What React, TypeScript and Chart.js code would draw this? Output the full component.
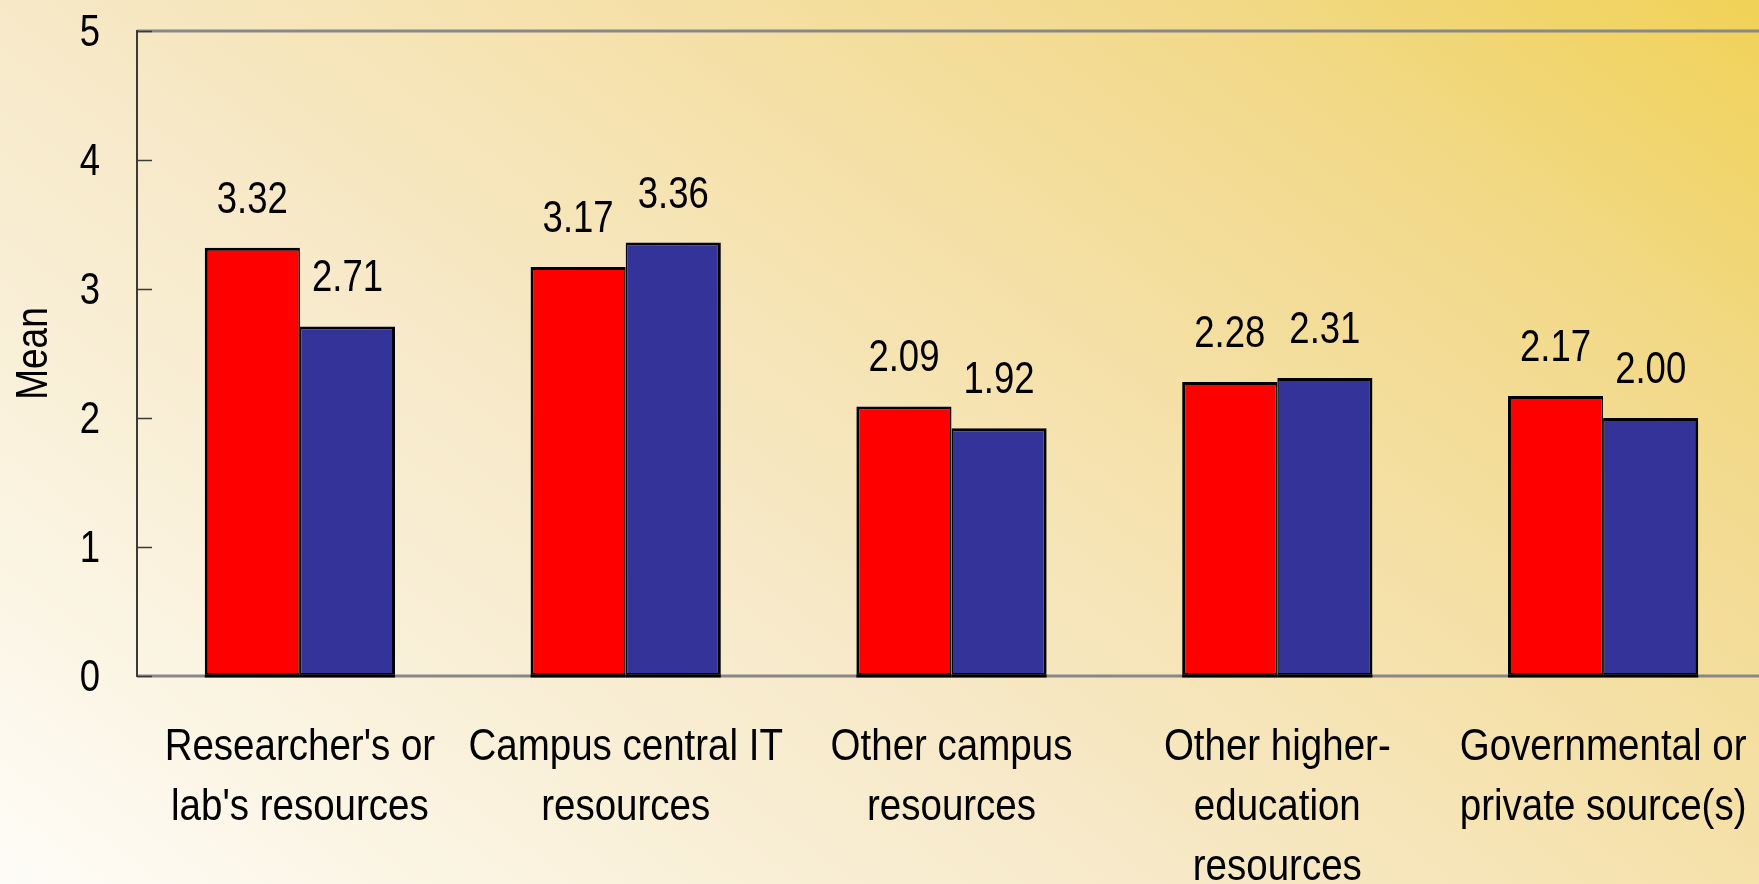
import React, { useEffect, useRef } from "react";
import { Chart, registerables } from "chart.js";

Chart.register(...registerables);

const categories: string[][] = [
  ["Researcher's or", "lab's resources"],
  ["Campus central IT", "resources"],
  ["Other campus", "resources"],
  ["Other higher-", "education", "resources"],
  ["Governmental or", "private source(s)"],
];
const seriesA: number[] = [3.32, 3.17, 2.09, 2.28, 2.17];
const seriesB: number[] = [2.71, 3.36, 1.92, 2.31, 2.0];
const yTicks: number[] = [0, 1, 2, 3, 4, 5];
const yTitle = "Mean";

const FONT = "'Liberation Sans', Arial, sans-serif";
const FS = 44;
const NARROW_NUM = 0.83;
const NARROW_TXT = 0.875;

function drawNarrow(ctx: any, text: string, x: number, y: number, align: string, sx: number) {
  ctx.save();
  ctx.translate(x, y);
  ctx.scale(sx, 1);
  ctx.textAlign = align;
  ctx.textBaseline = "alphabetic";
  ctx.fillText(text, 0, 0);
  ctx.restore();
}

const backgroundPlugin = {
  id: "bgGradient",
  beforeDraw(chart: any) {
    const { ctx, width, height } = chart;
    const g = ctx.createLinearGradient(1759, 0, 697, 1409);
    g.addColorStop(0, "#f0d257");
    g.addColorStop(0.2, "#f2d98a");
    g.addColorStop(0.4, "#f5e1aa");
    g.addColorStop(0.6, "#f7e9c8");
    g.addColorStop(0.8, "#faf2dd");
    g.addColorStop(1, "#fefcf7");
    ctx.save();
    ctx.fillStyle = g;
    ctx.fillRect(0, 0, width, height);
    ctx.restore();
  },
};

const axisDecorPlugin = {
  id: "axisDecor",
  afterDatasetsDraw(chart: any) {
    const { ctx, chartArea } = chart;
    const y = chart.scales.y;
    ctx.save();
    const y0 = y.getPixelForValue(0);
    const y5 = y.getPixelForValue(5);
    // top border line
    ctx.strokeStyle = "#888888";
    ctx.lineWidth = 3;
    ctx.beginPath();
    ctx.moveTo(chartArea.left, y5);
    ctx.lineTo(chartArea.right + 20, y5);
    ctx.stroke();
    // bottom axis line
    ctx.beginPath();
    ctx.moveTo(chartArea.left, y0);
    ctx.lineTo(chartArea.right + 20, y0);
    ctx.stroke();
    // bar bottom borders over the axis
    ctx.strokeStyle = "#000";
    ctx.lineWidth = 3;
    chart.data.datasets.forEach((_: any, di: number) => {
      chart.getDatasetMeta(di).data.forEach((bar: any) => {
        ctx.beginPath();
        ctx.moveTo(bar.x - bar.width / 2, y0);
        ctx.lineTo(bar.x + bar.width / 2, y0);
        ctx.stroke();
      });
    });
    // left axis line
    ctx.strokeStyle = "#3a3a3a";
    ctx.lineWidth = 2;
    ctx.beginPath();
    ctx.moveTo(chartArea.left, y5 - 1);
    ctx.lineTo(chartArea.left, y0 + 1);
    ctx.stroke();
    // inside ticks
    ctx.lineWidth = 1.5;
    for (const v of yTicks) {
      const py = Math.round(y.getPixelForValue(v)) + 0.5;
      ctx.beginPath();
      ctx.moveTo(chartArea.left, py);
      ctx.lineTo(chartArea.left + 15, py);
      ctx.stroke();
    }
    ctx.restore();
  },
};

const textPlugin = {
  id: "texts",
  afterDraw(chart: any) {
    const { ctx, chartArea } = chart;
    const x = chart.scales.x;
    const y = chart.scales.y;
    ctx.save();
    ctx.font = `${FS}px ${FONT}`;
    ctx.fillStyle = "#000";
    // value labels
    chart.data.datasets.forEach((ds: any, di: number) => {
      const meta = chart.getDatasetMeta(di);
      meta.data.forEach((bar: any, i: number) => {
        const v = ds.data[i] as number;
        drawNarrow(ctx, v.toFixed(2), bar.x, bar.y - 35, "center", NARROW_NUM);
      });
    });
    // y tick labels
    for (const v of yTicks) {
      drawNarrow(ctx, String(v), 100, y.getPixelForValue(v) + 15, "right", NARROW_NUM);
    }
    // x category labels
    const base = y.getPixelForValue(0);
    categories.forEach((lines, i) => {
      const cx = x.getPixelForTick(i);
      lines.forEach((ln, li) => {
        drawNarrow(ctx, ln, cx, base + 84 + li * 60, "center", NARROW_TXT);
      });
    });
    // y title
    ctx.save();
    ctx.translate(47, (chartArea.top + chartArea.bottom) / 2);
    ctx.rotate(-Math.PI / 2);
    drawNarrow(ctx, yTitle, 0, 0, "center", 0.84);
    ctx.restore();
    ctx.restore();
  },
};

export default function App() {
  const ref = useRef<HTMLCanvasElement | null>(null);

  useEffect(() => {
    document.body.style.margin = "0";
    document.body.style.overflow = "hidden";
    const canvas = ref.current!;
    const chart = new Chart(canvas, {
      type: "bar",
      data: {
        labels: categories.map((c) => c.join(" ")),
        datasets: [
          {
            label: "Series A",
            data: seriesA,
            backgroundColor: "#ff0000",
            borderColor: "#000000",
            borderWidth: { top: 3, left: 3, right: 1.5, bottom: 3 },
            borderSkipped: false,
            barPercentage: 1,
            categoryPercentage: 0.584,
          },
          {
            label: "Series B",
            data: seriesB,
            backgroundColor: "#333399",
            borderColor: "#000000",
            borderWidth: { top: 3, left: 1.5, right: 3, bottom: 3 },
            borderSkipped: false,
            barPercentage: 1,
            categoryPercentage: 0.584,
          },
        ],
      },
      options: {
        responsive: false,
        animation: false,
        devicePixelRatio: 1,
        layout: { padding: { top: 31, right: 0, left: 0, bottom: 0 } },
        plugins: {
          legend: { display: false },
          tooltip: { enabled: false },
        },
        scales: {
          x: {
            afterFit: (s: any) => {
              s.height = 208;
              s.paddingLeft = 0;
              s.paddingRight = 0;
            },
            grid: { display: false, drawTicks: false },
            border: { display: false },
            ticks: { display: false },
          },
          y: {
            min: 0,
            max: 5,
            afterFit: (s: any) => {
              s.width = 137;
              s.paddingTop = 0;
              s.paddingBottom = 0;
            },
            grid: { display: false, drawTicks: false },
            border: { display: false },
            ticks: { display: false, stepSize: 1 },
          },
        },
      },
      plugins: [backgroundPlugin, axisDecorPlugin, textPlugin],
    });
    return () => chart.destroy();
  }, []);

  return (
    <div style={{ position: "fixed", left: 0, top: 0, width: "1759px", height: "884px", overflow: "hidden" }}>
      <canvas ref={ref} width={1766} height={884} style={{ display: "block" }} />
    </div>
  );
}
